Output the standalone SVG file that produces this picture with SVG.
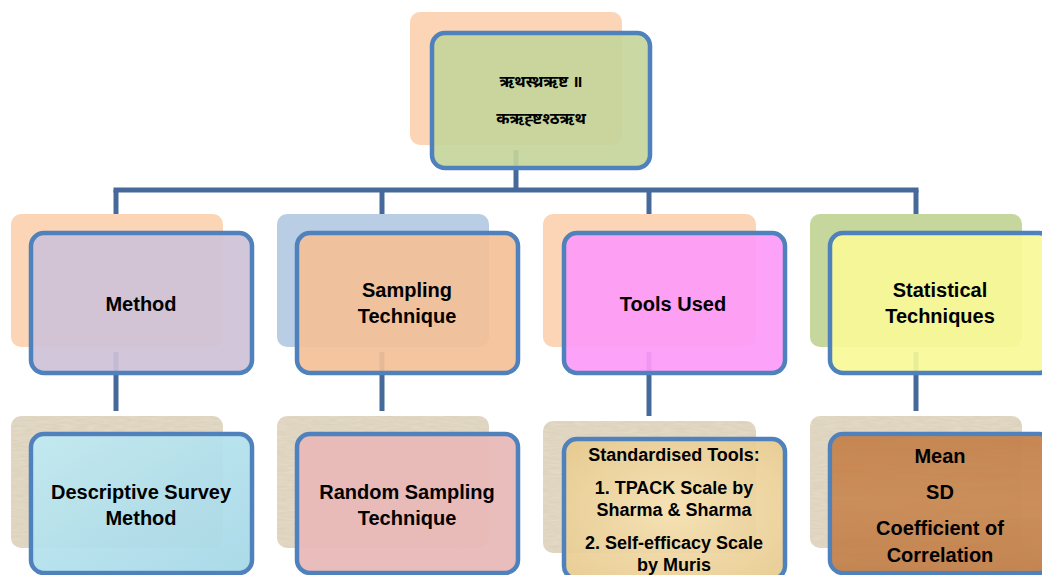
<svg xmlns="http://www.w3.org/2000/svg" width="1042" height="575" viewBox="0 0 1042 575">
<style>
.back{stroke:none}
.front{stroke:#4f81bd;stroke-width:4.5;fill-opacity:0.92}
.conn{stroke:#46699b;stroke-width:5;fill:none}
.lbl{font-family:"Liberation Sans",Arial,sans-serif;font-weight:bold;font-size:20px;fill:#000;text-anchor:middle}
.sm{font-size:18px}
.dev{font-family:"Noto Sans Devanagari","Lohit Devanagari","Noto Sans","DejaVu Sans",sans-serif;font-weight:bold;font-size:16px;fill:#000;text-anchor:middle}
</style>
<defs>
<filter id="grain" x="0" y="0" width="100%" height="100%">
<feTurbulence type="fractalNoise" baseFrequency="0.08 0.5" numOctaves="2" seed="3" result="n"/>
<feColorMatrix in="n" type="matrix" values="0 0 0 0 0.5  0 0 0 0 0.45  0 0 0 0 0.35  0 0 0 0.35 0" result="c"/>
<feComposite in="c" in2="SourceGraphic" operator="atop"/>
</filter>
<filter id="wood" x="0" y="0" width="100%" height="100%">
<feTurbulence type="fractalNoise" baseFrequency="0.01 0.15" numOctaves="3" seed="7" result="n"/>
<feColorMatrix in="n" type="matrix" values="0 0 0 0 0.55  0 0 0 0 0.3  0 0 0 0 0.12  0 0 0 0.6 0" result="c"/>
<feComposite in="c" in2="SourceGraphic" operator="atop"/>
</filter>
<filter id="mottle" x="0" y="0" width="100%" height="100%">
<feTurbulence type="fractalNoise" baseFrequency="0.04" numOctaves="3" seed="11" result="n"/>
<feColorMatrix in="n" type="matrix" values="0 0 0 0 1  0 0 0 0 1  0 0 0 0 1  0 0 0 0.35 0" result="c"/>
<feComposite in="c" in2="SourceGraphic" operator="atop"/>
</filter>
<linearGradient id="water" x1="0" y1="0" x2="1" y2="1">
<stop offset="0" stop-color="#b9e7f1"/>
<stop offset="0.5" stop-color="#a6dcea"/>
<stop offset="1" stop-color="#98d2e3"/>
</linearGradient>
<radialGradient id="tan" cx="0.5" cy="0.5" r="0.7">
<stop offset="0" stop-color="#f7e3b4"/>
<stop offset="1" stop-color="#e6c88c"/>
</radialGradient>
<linearGradient id="woodg" x1="0" y1="0" x2="0" y2="1">
<stop offset="0" stop-color="#c07a45"/>
<stop offset="0.5" stop-color="#cf8f5a"/>
<stop offset="1" stop-color="#b8733f"/>
</linearGradient>
</defs>

<g id="connectors">
<line class="conn" x1="516" y1="150" x2="516" y2="190"/>
<line class="conn" x1="113.5" y1="190" x2="918.5" y2="190"/>
<line class="conn" x1="116" y1="190" x2="116" y2="214"/>
<line class="conn" x1="382" y1="190" x2="382" y2="214"/>
<line class="conn" x1="649" y1="190" x2="649" y2="214"/>
<line class="conn" x1="916" y1="190" x2="916" y2="214"/>
<line class="conn" x1="116" y1="352" x2="116" y2="411"/>
<line class="conn" x1="382" y1="352" x2="382" y2="411"/>
<line class="conn" x1="649" y1="352" x2="649" y2="416"/>
<line class="conn" x1="916" y1="352" x2="916" y2="411"/>
</g>

<g id="node-top">
<rect class="back" x="410" y="12" width="212" height="133" rx="10" fill="#fbd5b5"/>
<rect class="front" x="432" y="33" width="218" height="135" rx="13" fill="#c6d59b"/>
<text class="dev" x="541" y="87">ऋथस्थ्रऋष्ट ॥</text>
<text class="dev" x="541" y="124">कऋह्ष्टश्ठऋथ</text>
</g>

<g id="node-method">
<rect class="back" x="11" y="214" width="212" height="133" rx="10" fill="#fbd5b5"/>
<rect class="front" x="31" y="233" width="221" height="140" rx="13" fill="#cec1d8"/>
<text class="lbl" x="141" y="311">Method</text>
</g>

<g id="node-sampling">
<rect class="back" x="277" y="214" width="212" height="133" rx="10" fill="#b9cde4"/>
<rect class="front" x="297" y="233" width="221" height="140" rx="13" fill="#f3c096"/>
<text class="lbl" x="407" y="297">Sampling</text>
<text class="lbl" x="407" y="323">Technique</text>
</g>

<g id="node-tools">
<rect class="back" x="543" y="214" width="213" height="133" rx="10" fill="#fbd5b5"/>
<rect class="front" x="564" y="233" width="221" height="140" rx="13" fill="#fd9af8"/>
<text class="lbl" x="673" y="311">Tools Used</text>
</g>

<g id="node-statistical">
<rect class="back" x="810" y="214" width="212" height="133" rx="10" fill="#c5d79d"/>
<rect class="front" x="830" y="233" width="222" height="140" rx="13" fill="#f8f898"/>
<text class="lbl" x="940" y="297">Statistical</text>
<text class="lbl" x="940" y="323">Techniques</text>
</g>

<g id="node-descriptive">
<rect class="back" x="11" y="416" width="212" height="132" rx="10" fill="#e6dcc8" filter="url(#grain)"/>
<rect class="front" x="31" y="434" width="221" height="139" rx="13" fill="url(#water)" fill-opacity="1"/>
<rect x="33" y="436" width="217" height="135" rx="11" fill="#ffffff" filter="url(#mottle)" opacity="0.12"/>
<text class="lbl" x="141" y="499">Descriptive Survey</text>
<text class="lbl" x="141" y="525">Method</text>
</g>

<g id="node-random">
<rect class="back" x="277" y="416" width="212" height="132" rx="10" fill="#e6dcc8" filter="url(#grain)"/>
<rect class="front" x="297" y="434" width="221" height="139" rx="13" fill="#e8b7b7" fill-opacity="1"/>
<text class="lbl" x="407" y="499">Random Sampling</text>
<text class="lbl" x="407" y="525">Technique</text>
</g>

<g id="node-standardised">
<rect class="back" x="543" y="421" width="213" height="132" rx="10" fill="#e6dcc8" filter="url(#grain)"/>
<rect class="front" x="564" y="439" width="221" height="140" rx="13" fill="url(#tan)" fill-opacity="1"/>
<text class="lbl sm" x="674" y="461">Standardised Tools:</text>
<text class="lbl sm" x="674" y="494">1. TPACK Scale by</text>
<text class="lbl sm" x="674" y="516">Sharma &amp; Sharma</text>
<text class="lbl sm" x="674" y="549">2. Self-efficacy Scale</text>
<text class="lbl sm" x="674" y="571">by Muris</text>
</g>

<g id="node-mean">
<rect class="back" x="810" y="416" width="212" height="132" rx="10" fill="#e6dcc8" filter="url(#grain)"/>
<rect class="front" x="830" y="434" width="222" height="139" rx="13" fill="url(#woodg)" fill-opacity="1"/>
<rect x="832" y="436" width="218" height="135" rx="11" fill="#c98650" filter="url(#wood)" opacity="0.6"/>
<text class="lbl" x="940" y="463">Mean</text>
<text class="lbl" x="940" y="499">SD</text>
<text class="lbl" x="940" y="535">Coefficient of</text>
<text class="lbl" x="940" y="562">Correlation</text>
</g>
</svg>
